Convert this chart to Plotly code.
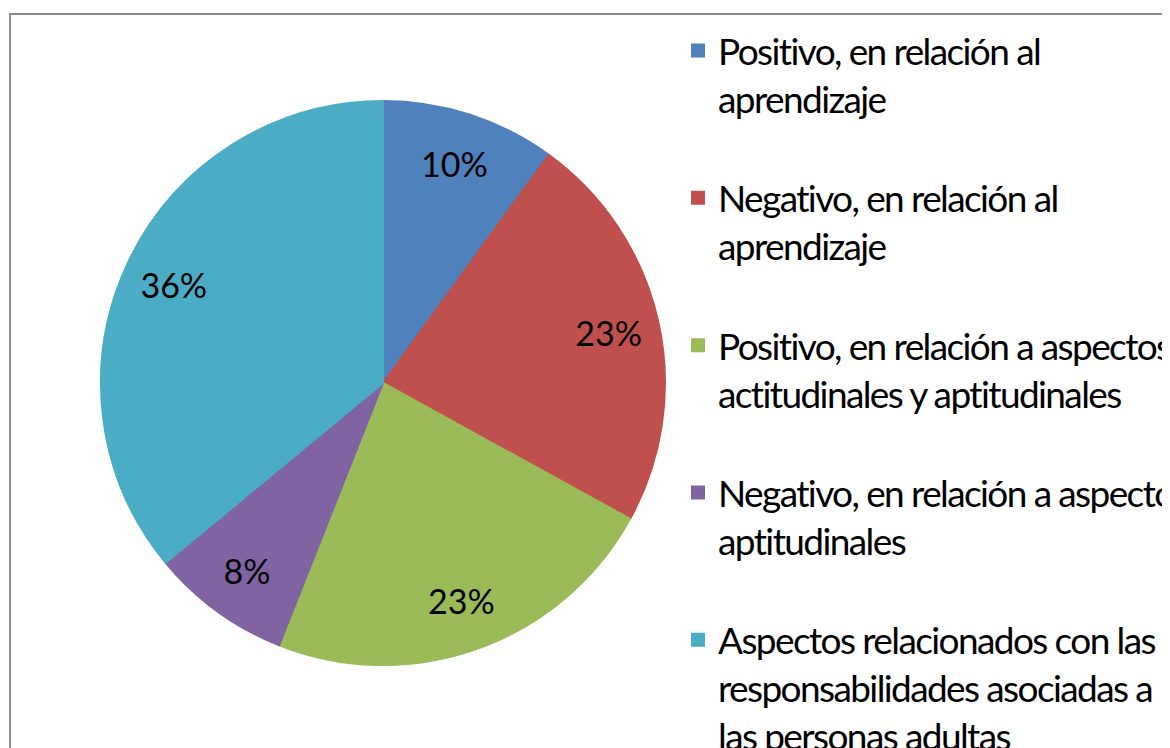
import plotly.graph_objects as go

# categorias y valores (porcentajes)
labels = [
    "Positivo, en relación al<br>aprendizaje",
    "Negativo, en relación al<br>aprendizaje",
    "Positivo, en relación a aspectos<br>actitudinales y aptitudinales",
    "Negativo, en relación a aspectos<br>aptitudinales",
    "Aspectos relacionados con las<br>responsabilidades asociadas a<br>las personas adultas",
]
values = [10, 23, 23, 8, 36]
colors = ["#4F81BD", "#C0504D", "#9BBB59", "#8064A2", "#4BACC6"]

W, H = 1170, 748
OFF = 8  # margen del body de la pagina
FONT = "Lato"


def tight(txt):
    # texto algo mas estrecho, como Calibri
    return "<br>".join(f"<span style='letter-spacing:-1.6px'>{ln}</span>" if ln.strip() else ln
                       for ln in txt.split("<br>"))


# relleno para separar las entradas de la leyenda
legend_labels = [tight(lab) + "<br> " for lab in labels[:-1]] + [tight(labels[-1])]

cx, cy, r = 383 - OFF, 383 - OFF, 282
dom = dict(x=[(cx - r) / W, (cx + r) / W], y=[(H - cy - r) / H, (H - cy + r) / H])

fig = go.Figure()
fig.add_trace(go.Pie(
    labels=legend_labels,
    values=values,
    marker=dict(colors=colors, line=dict(width=2, color=colors)),
    sort=False,
    direction="clockwise",
    rotation=0,
    textinfo="none",
    hoverinfo="skip",
    domain=dom,
))
# etiquetas de porcentaje (anillo transparente, para ponerlas hacia el borde)
fig.add_trace(go.Pie(
    labels=[f"pct{i}" for i in range(len(values))],
    values=values,
    hole=0.64,
    marker=dict(colors=["rgba(0,0,0,0)"] * len(values), line=dict(width=0)),
    sort=False,
    direction="clockwise",
    rotation=0,
    textinfo="percent",
    textposition="inside",
    insidetextorientation="horizontal",
    textfont=dict(family=FONT, size=34, color="black"),
    hoverinfo="skip",
    showlegend=False,
    domain=dom,
))

# marco gris del area del grafico
fig.add_shape(type="rect", xref="paper", yref="paper",
              x0=(10 - OFF) / W, x1=1.2, y0=-0.2, y1=1 - (14 - OFF) / H,
              line=dict(color="#8a8a8a", width=2), fillcolor="rgba(0,0,0,0)")

fig.update_layout(
    width=W, height=H,
    margin=dict(l=0, r=0, t=0, b=0, autoexpand=False),
    paper_bgcolor="white",
    plot_bgcolor="white",
    showlegend=True,
    legend=dict(
        x=670 / W, xanchor="left",
        y=1 - 12 / H, yanchor="top",
        valign="top",
        font=dict(family=FONT, size=37, color="black"),
        bgcolor="rgba(0,0,0,0)",
        itemclick=False,
    ),
)

fig.write_html("out.html")
